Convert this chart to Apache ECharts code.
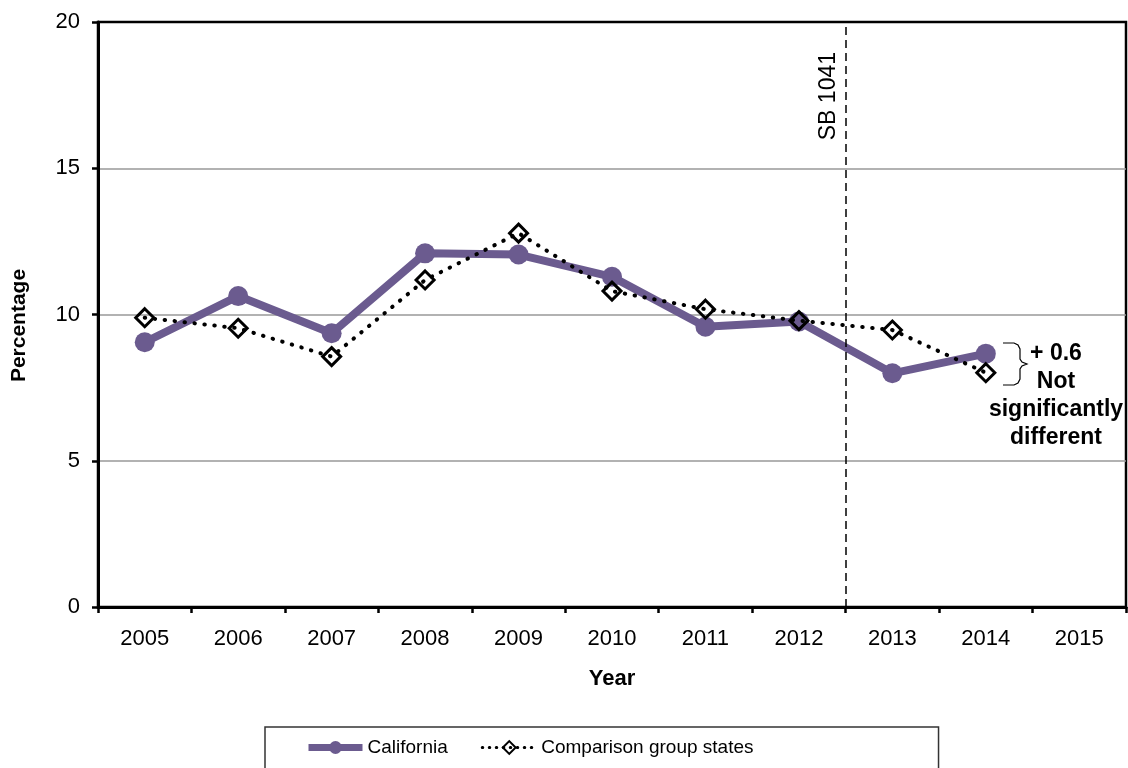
<html>
<head>
    <meta charset="utf-8">
    <title>Percentage by year</title>
    <script src="https://cdn.jsdelivr.net/npm/echarts@6/dist/echarts.min.js"></script>
    <style>
        body { margin: 0; background: #fff; }
    </style>
</head>
<body>
<div id="chartmain" style="width: 1128px; height: 768px;"></div>
</body>
<script type="text/javascript">
    // data
    var years = ['2005', '2006', '2007', '2008', '2009', '2010', '2011', '2012', '2013', '2014', '2015'];
    var california = [9.05, 10.63, 9.36, 12.09, 12.05, 11.29, 9.58, 9.76, 7.99, 8.66];
    var comparison = [9.89, 9.53, 8.56, 11.18, 12.78, 10.80, 10.18, 9.79, 9.47, 8.01];
    var yTicks = [0, 5, 10, 15, 20];
    var lawPosition = 7.5; // between 2012 and 2013
    var lawLabel = 'SB 1041';

    var font = 'Arial, "Liberation Sans", sans-serif';
    var purple = '#6B5B8F';

    // the lines are drawn on a hidden value axis lined up with the category axis
    function toPoints(arr) {
        var out = [];
        for (var i = 0; i < arr.length; i++) {
            out.push([i, arr[i]]);
        }
        return out;
    }

    var myChart = echarts.init(document.getElementById('chartmain'));

    var option = {
        backgroundColor: '#fff',
        animation: false,
        textStyle: { fontFamily: font },
        grid: {
            left: 98, right: 2, top: 22, bottom: 161,
            show: true, borderColor: '#000', borderWidth: 2.5
        },
        legend: {
            left: 265, top: 727,
            borderColor: '#333', borderWidth: 1.5,
            padding: [11, 185, 40, 40],
            itemWidth: 54, itemHeight: 16, itemGap: 33,
            textStyle: { fontSize: 19, color: '#000', fontFamily: font },
            data: [{
                name: 'California',
                itemStyle: { color: purple },
                lineStyle: { color: purple, width: 7 }
            }, {
                name: 'Comparison group states',
                lineStyle: { color: '#000', width: 3, type: [0.5, 6.5], cap: 'round' }
            }]
        },
        xAxis: [{
            type: 'category',
            data: years,
            boundaryGap: true,
            name: 'Year',
            nameLocation: 'middle',
            nameGap: 61,
            nameTextStyle: { fontSize: 22, fontWeight: 'bold', color: '#000' },
            axisLine: { lineStyle: { color: '#000', width: 3 } },
            axisTick: { show: true, length: 6, lineStyle: { color: '#000', width: 2.5 } },
            axisLabel: { fontSize: 22, color: '#000', margin: 21 },
            splitLine: { show: false }
        }, {
            type: 'value',
            min: -0.5, max: 10.5,
            show: false
        }],
        yAxis: {
            type: 'value',
            min: yTicks[0], max: yTicks[yTicks.length - 1], interval: 5,
            name: 'Percentage',
            nameLocation: 'middle',
            nameRotate: 90,
            nameGap: 68,
            nameTextStyle: { fontSize: 21, fontWeight: 'bold', color: '#000', padding: [0, 22, 0, 0] },
            axisLine: { show: true, onZero: false, lineStyle: { color: '#000', width: 3 } },
            axisTick: { show: true, length: 6, lineStyle: { color: '#000', width: 2.5 } },
            axisLabel: { fontSize: 22, color: '#000', margin: 18 },
            splitLine: { show: true, showMinLine: false, showMaxLine: false, lineStyle: { color: '#999', width: 1.5 } }
        },
        series: [{
            name: 'California',
            type: 'line',
            xAxisIndex: 1,
            data: toPoints(california),
            symbol: 'circle',
            symbolSize: 20,
            lineStyle: { color: purple, width: 8 },
            itemStyle: { color: purple },
            z: 2,
            markLine: {
                silent: true,
                symbol: 'none',
                lineStyle: { color: '#000', width: 1.5, type: [8, 5] },
                label: {
                    show: true,
                    formatter: lawLabel,
                    position: 'insideEndTop',
                    distance: [30, 5],
                    fontSize: 23,
                    color: '#000',
                    fontFamily: font
                },
                data: [[{ coord: [lawPosition, yTicks[0]] }, { coord: [lawPosition, yTicks[yTicks.length - 1]] }]]
            }
        }, {
            name: 'Comparison group states',
            type: 'line',
            xAxisIndex: 1,
            data: toPoints(comparison),
            symbol: 'diamond',
            symbolSize: 18,
            lineStyle: { color: '#000', width: 4, type: [0.5, 9.5], cap: 'round' },
            itemStyle: { color: 'rgba(255,255,255,0)', borderColor: '#000', borderWidth: 3 },
            z: 3
        }],
        graphic: [{
            // brace next to the 2014 points
            type: 'polyline',
            shape: {
                points: [[1003, 343], [1014, 343], [1018, 345], [1020, 349], [1020, 359], [1022, 362], [1027, 364],
                         [1022, 366], [1020, 369], [1020, 379], [1018, 383], [1014, 385], [1003, 385]]
            },
            style: { fill: 'none', stroke: '#000', lineWidth: 1.2 },
            z: 10
        }, {
            type: 'text',
            x: 1056, y: 340,
            style: {
                text: '+ 0.6\nNot\nsignificantly\ndifferent',
                fill: '#000',
                font: 'bold 23px ' + font,
                textAlign: 'center',
                lineHeight: 28
            },
            z: 10
        }]
    };

    myChart.setOption(option);
</script>
</html>
